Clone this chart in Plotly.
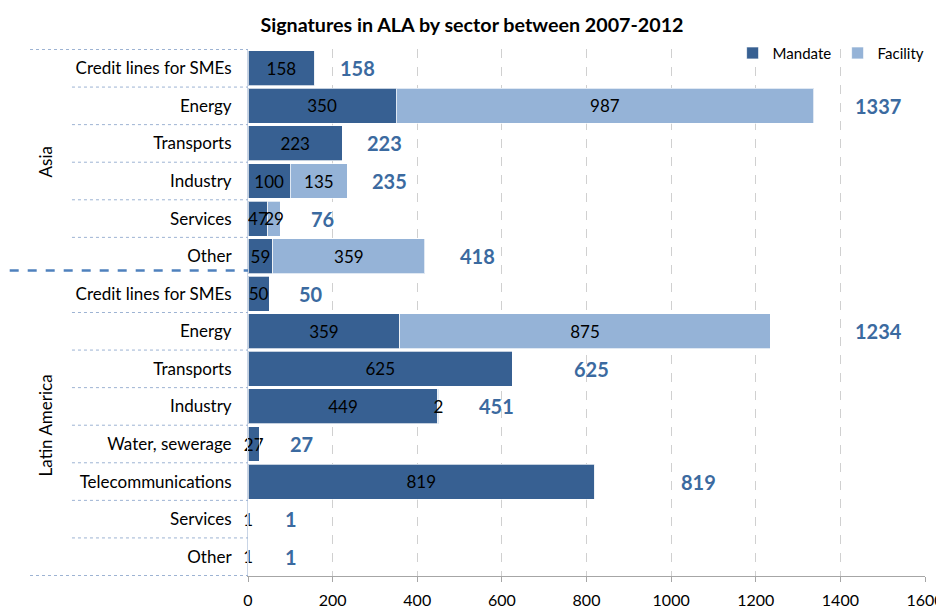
import plotly.graph_objects as go

# chart data, top to bottom
regions = ["Asia"] * 6 + ["Latin America"] * 8
sectors = ["Credit lines for SMEs", "Energy", "Transports", "Industry", "Services", "Other",
           "Credit lines for SMEs", "Energy", "Transports", "Industry", "Water, sewerage",
           "Telecommunications", "Services", "Other"]
mandate = [158, 350, 223, 100, 47, 59, 50, 359, 625, 449, 27, 819, 1, 1]
facility = [0, 987, 0, 135, 29, 359, 0, 875, 0, 2, 0, 0, 0, 0]

MANDATE_COL = "#376092"
FACILITY_COL = "#95B3D7"
TOTAL_COL = "#3B6AA0"
FONT = "Lato"

keys = [f"{r}|{s}" for r, s in zip(regions, sectors)]
totals = [m + f for m, f in zip(mandate, facility)]

fig = go.Figure()
fig.add_trace(go.Bar(
    y=keys, x=mandate, orientation="h", name="Mandate",
    marker=dict(color=MANDATE_COL, line=dict(color="rgba(255,255,255,0.7)", width=1)),
    text=[str(v) if v else "" for v in mandate], textposition="inside",
    insidetextanchor="middle", textfont=dict(color="black", size=17, family=FONT),
    cliponaxis=False,
))
fig.add_trace(go.Bar(
    y=keys, x=facility, orientation="h", name="Facility",
    marker=dict(color=FACILITY_COL, line=dict(color="rgba(255,255,255,0.7)", width=1)),
    text=[str(v) if v else "" for v in facility], textposition="inside",
    insidetextanchor="middle", textfont=dict(color="black", size=17, family=FONT),
    cliponaxis=False,
))

# total labels to the right of each bar
for k, t in zip(keys, totals):
    fig.add_annotation(x=min(t + max(100, 0.3 * t), 1490), y=k, text=f"<b>{t}</b>",
                       showarrow=False, font=dict(color=TOTAL_COL, size=20, family=FONT))

# category separators in the left margin
dot_col = "#9DB3D3"
n = len(keys)
for i in range(n + 1):
    b = i - 0.5
    if i == 0 or i == n:
        x0 = -0.322
    else:
        x0 = -0.26
    if i == 6:
        fig.add_shape(type="line", xref="paper", yref="y", x0=-0.352, x1=0, y0=b - 0.12, y1=b - 0.12,
                      line=dict(color="#4F81BD", width=2.5, dash="dash"))
    else:
        fig.add_shape(type="line", xref="paper", yref="y", x0=x0, x1=0, y0=b, y1=b,
                      line=dict(color=dot_col, width=1, dash="dot"))

# region group labels
for name, lo, hi in [("Asia", 0, 5), ("Latin America", 6, 13)]:
    fig.add_annotation(x=-0.318, xref="paper", y=(lo + hi) / 2, yref="y", text=name,
                       textangle=-90, showarrow=False,
                       font=dict(color="black", size=17, family=FONT))

# the page body adds an 8px offset, margins below account for it
fig.update_layout(
    width=944, height=608,
    margin=dict(l=240, r=27, t=41, b=40, autoexpand=False),
    paper_bgcolor="white", plot_bgcolor="white",
    barmode="stack", bargap=0.07,
    uniformtext=dict(minsize=17, mode="show"),
    font=dict(family=FONT, color="black"),
    title=dict(text="<b>Signatures in ALA by sector between 2007-2012</b>",
               x=0.4915, xanchor="center", y=0.972, yanchor="middle",
               font=dict(size=19.7, family=FONT, color="black")),
    legend=dict(orientation="h", x=1.026, xanchor="right", y=0.992, yanchor="middle",
                font=dict(size=15, family=FONT), bgcolor="rgba(255,255,255,0)",
                traceorder="normal", itemwidth=30, entrywidth=60, entrywidthmode="pixels"),
    xaxis=dict(range=[0, 1600], dtick=200, showgrid=True, gridcolor="#D0D0D0",
               griddash="dash", gridwidth=1, showline=True, linecolor="#A6A6A6",
               ticks="outside", ticklen=5, tickcolor="#A6A6A6", ticklabelstandoff=5,
               tickfont=dict(size=16, family=FONT, color="black"), zeroline=False,
               automargin=False, fixedrange=True),
    yaxis=dict(autorange="reversed", tickvals=keys, ticktext=sectors,
               tickfont=dict(size=17, family=FONT, color="black"),
               showline=True, linecolor="#C9D5E6", ticks="", ticklabelstandoff=12,
               showgrid=False, automargin=False),
)

fig.write_html("out.html")
